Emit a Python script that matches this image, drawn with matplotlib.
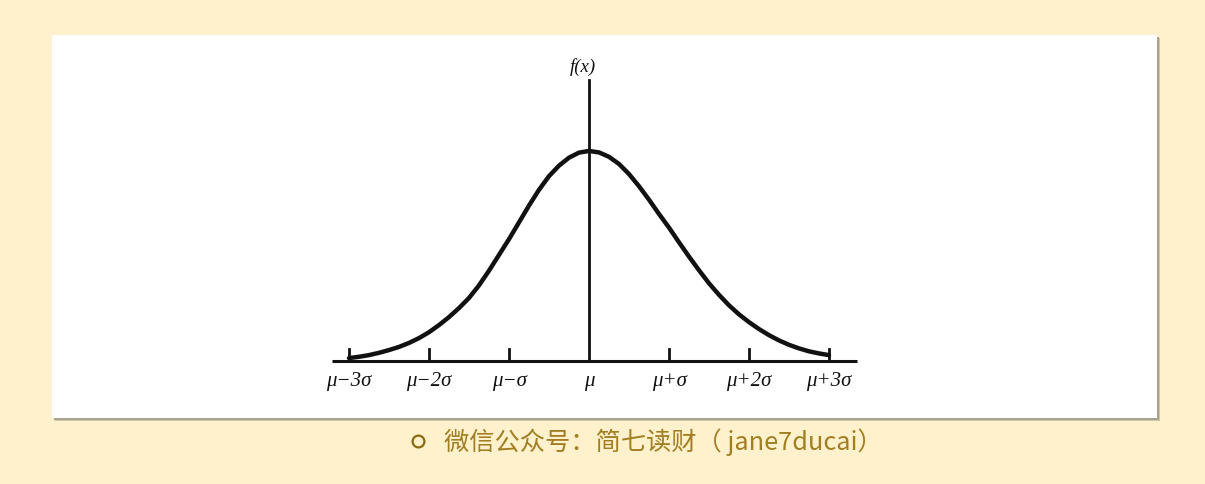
import matplotlib
matplotlib.use("Agg")
import matplotlib.pyplot as plt
import matplotlib.patches as mpatches

# ---------------------------------------------------------------------------
# Data (x in sigma units, height relative to the peak)
# ---------------------------------------------------------------------------
x_sigma = [-3.0, -2.875, -2.75, -2.625, -2.5, -2.375, -2.25, -2.125,
           -2.0, -1.875, -1.75, -1.625, -1.5, -1.375, -1.25, -1.125,
           -1.0, -0.875, -0.75, -0.625, -0.5, -0.375, -0.25, -0.125,
           0.0,
           0.125, 0.25, 0.375, 0.5, 0.625, 0.75, 0.875, 1.0,
           1.125, 1.25, 1.375, 1.5, 1.625, 1.75, 1.875, 2.0,
           2.125, 2.25, 2.375, 2.5, 2.625, 2.75, 2.875, 3.0]
height = [0.014, 0.02, 0.028, 0.039, 0.052, 0.067, 0.086, 0.109,
          0.137, 0.171, 0.209, 0.252, 0.30, 0.36, 0.43, 0.505,
          0.58, 0.66, 0.74, 0.815, 0.88, 0.93, 0.968, 0.992,
          1.0,
          0.993, 0.972, 0.938, 0.89, 0.832, 0.768, 0.70, 0.635,
          0.565, 0.497, 0.432, 0.37, 0.315, 0.265, 0.222, 0.185,
          0.152, 0.123, 0.098, 0.077, 0.06, 0.046, 0.036, 0.028]

tick_pos = [-3, -2, -1, 0, 1, 2, 3]
tick_labels = ['μ−3σ', 'μ−2σ', 'μ−σ', 'μ', 'μ+σ', 'μ+2σ', 'μ+3σ']
y_label = 'f(x)'
caption = '微信公众号：简七读财（ jane7ducai）'

# colours
BG = '#FFF1CC'
CAPTION = '#A27E22'
INK = '#111111'

W, H = 1205, 484
fig = plt.figure(figsize=(W / 100, H / 100), dpi=100, facecolor=BG)

# background layer in pixel coordinates (panel + shadow + caption)
bg = fig.add_axes([0, 0, 1, 1])
bg.set_xlim(0, W)
bg.set_ylim(H, 0)
bg.axis('off')
bg.add_patch(mpatches.Rectangle((55, 38), 1105, 383, facecolor='#ccc5b0', edgecolor='none'))
bg.add_patch(mpatches.Rectangle((54, 37), 1105, 383, facecolor='#a9a28e', edgecolor='none'))
bg.add_patch(mpatches.Rectangle((52, 35), 1105, 383, facecolor='white', edgecolor='none'))
bg.plot(418, 441, marker='o', ms=8.5, mfc='none', mec='#8a6a14', mew=1.6)
bg.text(444, 442, caption, ha='left', va='center', fontsize=18.2, color=CAPTION,
        family=['Noto Sans CJK SC', 'DejaVu Sans'])

# chart axes sitting on the white panel; 1 sigma = 80 px, peak = 210 px
ax = fig.add_axes([52 / W, (H - 418) / H, 1105 / W, 383 / H])
ax.set_xlim(-6.7125, 7.1)
ax.set_ylim(-0.2714, 1.552)
ax.axis('off')

# horizontal axis and ticks
ax.plot([-3.21, 3.35], [0, 0], color=INK, lw=2.2, solid_capstyle='butt')
for t in tick_pos:
    if t != 0:
        ax.plot([t, t], [0, 0.055], color=INK, lw=2.0)
# vertical axis
ax.plot([0, 0], [0, 1.34], color=INK, lw=2.0)

# the bell curve
ax.plot(x_sigma, height, color=INK, lw=3.2, solid_joinstyle='round', solid_capstyle='round')

for t, lab in zip(tick_pos, tick_labels):
    ax.text(t, -0.1, lab, ha='center', va='center', fontsize=15, style='italic',
            family='Liberation Serif', color=INK)
ax.text(-0.08, 1.40, y_label, ha='center', va='center', fontsize=13.5, style='italic',
        family='Liberation Serif', color=INK)

fig.savefig('out.png', dpi=100, facecolor=BG)
